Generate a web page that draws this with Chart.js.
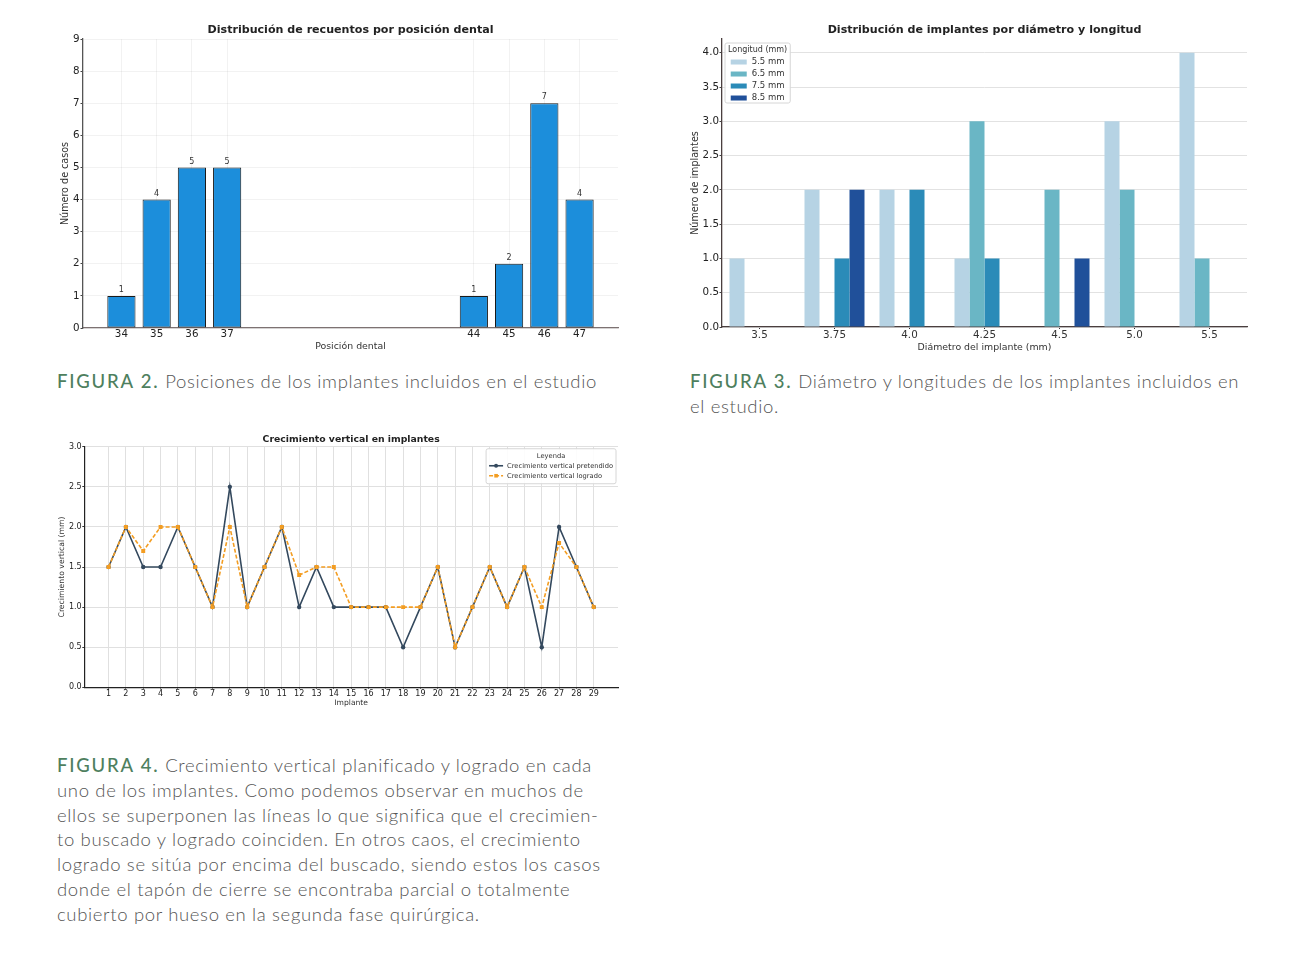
<!DOCTYPE html>
<html lang="es">
<head>
<meta charset="utf-8">
<title>Figuras 2, 3 y 4</title>
<script src="https://cdn.jsdelivr.net/npm/chart.js@4.4.0/dist/chart.umd.min.js"></script>
<style>
  html, body { margin: 0; padding: 0; background: #fff; }
  body { width: 1299px; height: 956px; position: relative; overflow: hidden; }
  canvas { position: absolute; }
  #fig2 { left: 40px; top: 8px; }
  #fig3 { left: 680px; top: 8px; }
  #fig4 { left: 40px; top: 425px; }
  .caption {
    position: absolute;
    font-family: Lato, 'Open Sans', sans-serif;
    font-weight: 300;
    font-size: 18.5px;
    line-height: 24.8px;
    color: #555;
    letter-spacing: 0.65px;
    white-space: nowrap;
  }
  .caption b { color: #4e7f5e; font-weight: 500; font-size: 18.5px; letter-spacing: 1.8px; }
</style>
</head>
<body>
<canvas id="fig2" width="600" height="352"></canvas>
<canvas id="fig3" width="600" height="352"></canvas>
<canvas id="fig4" width="600" height="290"></canvas>

<div class="caption" style="left:57px; top:369px;"><b>FIGURA 2.</b> Posiciones de los implantes incluidos en el estudio</div>
<div class="caption" style="left:690px; top:369px;"><b>FIGURA 3.</b> Diámetro y longitudes de los implantes incluidos en<br>el estudio.</div>
<div class="caption" style="left:57px; top:753px;"><b>FIGURA 4.</b> Crecimiento vertical planificado y logrado en cada<br>uno de los implantes. Como podemos observar en muchos de<br>ellos se superponen las líneas lo que significa que el crecimien-<br>to buscado y logrado coinciden. En otros caos, el crecimiento<br>logrado se sitúa por encima del buscado, siendo estos los casos<br>donde el tapón de cierre se encontraba parcial o totalmente<br>cubierto por hueso en la segunda fase quirúrgica.</div>

<script>
// ---- datos figura 2 ----
const toothPositions = ['34', '35', '36', '37', '44', '45', '46', '47'];
const toothCounts = [1, 4, 5, 5, 1, 2, 7, 4];

// ---- datos figura 3 ----
const diameters = ['3.5', '3.75', '4.0', '4.25', '4.5', '5.0', '5.5'];
const lengthLabels = ['5.5 mm', '6.5 mm', '7.5 mm', '8.5 mm'];
const len55 = [1, 2, 2, 1, 0, 3, 4];
const len65 = [0, 0, 0, 3, 2, 2, 1];
const len75 = [0, 1, 2, 1, 0, 0, 0];
const len85 = [0, 2, 0, 0, 1, 0, 0];

// ---- datos figura 4 ----
const implants = [1, 2, 3, 4, 5, 6, 7, 8, 9, 10, 11, 12, 13, 14, 15, 16, 17, 18, 19, 20, 21, 22, 23, 24, 25, 26, 27, 28, 29];
const plannedGrowth = [1.5, 2.0, 1.5, 1.5, 2.0, 1.5, 1.0, 2.5, 1.0, 1.5, 2.0, 1.0, 1.5, 1.0, 1.0, 1.0, 1.0, 0.5, 1.0, 1.5, 0.5, 1.0, 1.5, 1.0, 1.5, 0.5, 2.0, 1.5, 1.0];
const achievedGrowth = [1.5, 2.0, 1.7, 2.0, 2.0, 1.5, 1.0, 2.0, 1.0, 1.5, 2.0, 1.4, 1.5, 1.5, 1.0, 1.0, 1.0, 1.0, 1.0, 1.5, 0.5, 1.0, 1.5, 1.0, 1.5, 1.0, 1.8, 1.5, 1.0];

Chart.defaults.font.family = '"DejaVu Sans", sans-serif';
Chart.defaults.color = '#222';
Chart.defaults.animation = false;
Chart.defaults.devicePixelRatio = 1;

// etiquetas encima de las barras (figura 2)
const barValueLabels = {
  id: 'barValueLabels',
  afterDatasetsDraw(chart) {
    const ctx = chart.ctx;
    const meta = chart.getDatasetMeta(0);
    ctx.save();
    ctx.font = '8px "DejaVu Sans"';
    ctx.fillStyle = '#333';
    ctx.textAlign = 'center';
    ctx.textBaseline = 'bottom';
    meta.data.forEach((bar, i) => {
      ctx.fillText(String(toothCounts[i]), bar.x, bar.y - 2);
    });
    ctx.restore();
  }
};

// leyenda con recuadro dentro del área del gráfico (estilo matplotlib)
const boxLegend = {
  id: 'boxLegend',
  afterDraw(chart, args, o) {
    if (!o || !o.title) return;
    const { ctx, chartArea } = chart;
    const sets = chart.data.datasets;
    ctx.save();
    ctx.font = o.fontSize + 'px "DejaVu Sans"';
    const textW = Math.max(...sets.map(d => ctx.measureText(d.label).width));
    ctx.font = o.titleSize + 'px "DejaVu Sans"';
    const titleW = ctx.measureText(o.title).width;
    const rowsW = o.handleLength + o.handleGap + textW;
    const w = Math.max(titleW, rowsW) + 2 * o.sidePad;
    const h = o.firstRowY + (sets.length - 1) * o.rowHeight + o.bottomPad;
    const x = o.align === 'right' ? chartArea.right - o.marginX - w : chartArea.left + o.marginX;
    const y = chartArea.top + o.marginY;

    ctx.beginPath();
    ctx.roundRect(x, y, w, h, 2);
    ctx.fillStyle = 'rgba(255,255,255,0.9)';
    ctx.fill();
    ctx.strokeStyle = '#d6d6d6';
    ctx.lineWidth = 1;
    ctx.stroke();

    ctx.fillStyle = '#333';
    ctx.textAlign = 'center';
    ctx.textBaseline = 'middle';
    ctx.fillText(o.title, x + w / 2, y + o.titleY);

    const rowX = x + (w - rowsW) / 2;
    ctx.font = o.fontSize + 'px "DejaVu Sans"';
    ctx.textAlign = 'left';
    sets.forEach((d, i) => {
      const ry = y + o.firstRowY + i * o.rowHeight;
      if (o.kind === 'bar') {
        ctx.fillStyle = d.backgroundColor;
        ctx.fillRect(rowX, ry - 2.5, o.handleLength, 5);
      } else {
        ctx.strokeStyle = d.borderColor;
        ctx.lineWidth = d.borderWidth;
        ctx.setLineDash(d.borderDash || []);
        ctx.beginPath();
        ctx.moveTo(rowX, ry);
        ctx.lineTo(rowX + o.handleLength, ry);
        ctx.stroke();
        ctx.setLineDash([]);
        ctx.fillStyle = d.borderColor;
        const cx = rowX + o.handleLength / 2;
        if (d.pointStyle === 'rect') {
          ctx.fillRect(cx - 1.8, ry - 1.8, 3.6, 3.6);
        } else {
          ctx.beginPath();
          ctx.arc(cx, ry, 2, 0, Math.PI * 2);
          ctx.fill();
        }
      }
      ctx.fillStyle = '#333';
      ctx.fillText(d.label, rowX + o.handleLength + o.handleGap, ry);
    });
    ctx.restore();
  }
};

// ---------- FIGURA 2 ----------
const toothNums = toothPositions.map(Number);
const toothSpan = (toothNums[toothNums.length - 1] + 0.4) - (toothNums[0] - 0.4);
const toothMin = toothNums[0] - 0.4 - toothSpan * 0.05;
const toothMax = toothNums[toothNums.length - 1] + 0.4 + toothSpan * 0.05;

new Chart(document.getElementById('fig2'), {
  type: 'bar',
  data: {
    datasets: [{
      label: 'Número de casos',
      data: toothNums.map((p, i) => ({ x: p, y: toothCounts[i] })),
      backgroundColor: '#1c8edb',
      borderColor: '#1a1a1a',
      borderWidth: 1,
      borderSkipped: false,
      barPercentage: 0.8,
      categoryPercentage: 1
    }]
  },
  options: {
    responsive: false,
    layout: { padding: { left: 0, right: 22, top: 0, bottom: 0 } },
    plugins: {
      legend: { display: false },
      tooltip: { enabled: false },
      title: {
        display: true,
        fullSize: false,
        text: 'Distribución de recuentos por posición dental',
        font: { size: 11.1, weight: 'bold' },
        color: '#222',
        padding: { top: 15, bottom: 2.7 }
      }
    },
    scales: {
      x: {
        type: 'linear',
        offset: false,
        bounds: 'data',
        min: toothMin,
        max: toothMax,
        afterBuildTicks: s => { s.ticks = toothNums.map(v => ({ value: v })); },
        ticks: { autoSkip: false, maxRotation: 0, padding: 0, font: { size: 10.3 }, callback: v => String(v) },
        grid: { color: 'rgba(0,0,0,0.05)', drawTicks: false, offset: false },
        border: { color: '#7d7272', width: 1.3 },
        title: { display: true, text: 'Posición dental', font: { size: 9.4 }, color: '#333', padding: { top: 0, bottom: 8 } },
        afterFit: s => { s.height = 32; }
      },
      y: {
        min: 0,
        max: 9,
        ticks: { stepSize: 1, padding: 1, font: { size: 10.3 } },
        grid: { color: 'rgba(0,0,0,0.05)', tickColor: '#444', tickLength: 2.5 },
        border: { color: '#555', width: 1.3 },
        title: { display: true, text: 'Número de casos', font: { size: 9.6 }, color: '#333', padding: { top: 20, bottom: 0 } },
        afterFit: s => { s.width = 43; }
      }
    }
  },
  plugins: [barValueLabels]
});

// ---------- FIGURA 3 ----------
const lengthColors = ['#b6d3e4', '#6ab6c5', '#2b8bb8', '#20509a'];
const lengthSeries = [len55, len65, len75, len85];

new Chart(document.getElementById('fig3'), {
  type: 'bar',
  data: {
    labels: diameters,
    datasets: lengthSeries.map((vals, i) => ({
      label: lengthLabels[i],
      data: vals,
      backgroundColor: lengthColors[i],
      borderWidth: 0,
      barPercentage: 1,
      categoryPercentage: 0.8
    }))
  },
  options: {
    responsive: false,
    layout: { padding: { left: 0, right: 33, top: 0, bottom: 0 } },
    plugins: {
      legend: { display: false },
      tooltip: { enabled: false },
      title: {
        display: true,
        fullSize: false,
        text: 'Distribución de implantes por diámetro y longitud',
        font: { size: 11.1, weight: 'bold' },
        color: '#222',
        padding: { top: 15, bottom: 2.7 }
      },
      boxLegend: {
        title: 'Longitud (mm)', kind: 'bar', align: 'left',
        marginX: 3, marginY: 4, titleSize: 8, fontSize: 8.5,
        titleY: 7, firstRowY: 19, rowHeight: 12, bottomPad: 5,
        handleLength: 16, handleGap: 5, sidePad: 3
      }
    },
    scales: {
      x: {
        offset: true,
        ticks: { padding: 0, font: { size: 10.3 }, color: '#333' },
        grid: { color: 'transparent', offset: false, tickColor: '#333', tickLength: 2 },
        border: { color: '#4a3f3f', width: 1.3 },
        title: { display: true, text: 'Diámetro del implante (mm)', font: { size: 9.4 }, color: '#333', padding: { top: 0, bottom: 7 } },
        afterFit: s => { s.height = 33; }
      },
      y: {
        min: 0,
        max: 4.2,
        ticks: { stepSize: 0.5, includeBounds: false, padding: 0.5, font: { size: 10.3 }, callback: v => v.toFixed(1) },
        grid: { color: '#e2e2e2', tickColor: '#444', tickLength: 2.5 },
        border: { color: '#4a3f3f', width: 1.3 },
        title: { display: true, text: 'Número de implantes', font: { size: 9.6 }, color: '#333', padding: { top: 10, bottom: 0 } },
        afterFit: s => { s.width = 42; }
      }
    }
  },
  plugins: [boxLegend]
});

// ---------- FIGURA 4 ----------
const implantSpan = implants[implants.length - 1] - implants[0];
new Chart(document.getElementById('fig4'), {
  type: 'line',
  data: {
    datasets: [{
      label: 'Crecimiento vertical pretendido',
      data: implants.map((n, i) => ({ x: n, y: plannedGrowth[i] })),
      borderColor: '#34495e',
      backgroundColor: '#34495e',
      borderWidth: 1.6,
      pointStyle: 'circle',
      pointRadius: 2.2,
      pointBorderWidth: 0,
      tension: 0,
      order: 2
    }, {
      label: 'Crecimiento vertical logrado',
      data: implants.map((n, i) => ({ x: n, y: achievedGrowth[i] })),
      borderColor: '#f39d22',
      backgroundColor: '#f39d22',
      borderWidth: 1.6,
      borderDash: [4, 2],
      pointStyle: 'rect',
      pointRadius: 2.8,
      pointBorderWidth: 0,
      tension: 0,
      order: 1
    }]
  },
  options: {
    responsive: false,
    layout: { padding: { left: 0, right: 22, top: 0, bottom: 0 } },
    plugins: {
      legend: { display: false },
      tooltip: { enabled: false },
      title: {
        display: true,
        fullSize: false,
        text: 'Crecimiento vertical en implantes',
        font: { size: 9.3, weight: 'bold' },
        color: '#222',
        padding: { top: 9, bottom: 1.6 }
      },
      boxLegend: {
        title: 'Leyenda', kind: 'line', align: 'right',
        marginX: 2, marginY: 2, titleSize: 6.7, fontSize: 6.7,
        titleY: 7, firstRowY: 17, rowHeight: 10, bottomPad: 8,
        handleLength: 14, handleGap: 4, sidePad: 3
      }
    },
    scales: {
      x: {
        type: 'linear',
        bounds: 'data',
        min: implants[0] - implantSpan * 0.05,
        max: implants[implants.length - 1] + implantSpan * 0.05,
        afterBuildTicks: s => { s.ticks = implants.map(v => ({ value: v })); },
        ticks: { autoSkip: false, maxRotation: 0, padding: 0, font: { size: 8 }, callback: v => String(v) },
        grid: { color: '#e0e0e0', tickColor: '#333', tickLength: 1.5 },
        border: { color: '#222', width: 1.2 },
        title: { display: true, text: 'Implante', font: { size: 7.6 }, color: '#333', padding: { top: 0, bottom: 7 } },
        afterFit: s => { s.height = 27.7; }
      },
      y: {
        min: 0,
        max: 3,
        ticks: { stepSize: 0.5, padding: 0.6, font: { size: 8 }, callback: v => v.toFixed(1) },
        grid: { color: '#e0e0e0', tickColor: '#333', tickLength: 2 },
        border: { color: '#222', width: 1.2 },
        title: { display: true, text: 'Crecimiento vertical (mm)', font: { size: 7.7 }, color: '#333', padding: { top: 17.5, bottom: 0 } },
        afterFit: s => { s.width = 44.3; }
      }
    }
  },
  plugins: [boxLegend]
});
</script>
</body>
</html>
